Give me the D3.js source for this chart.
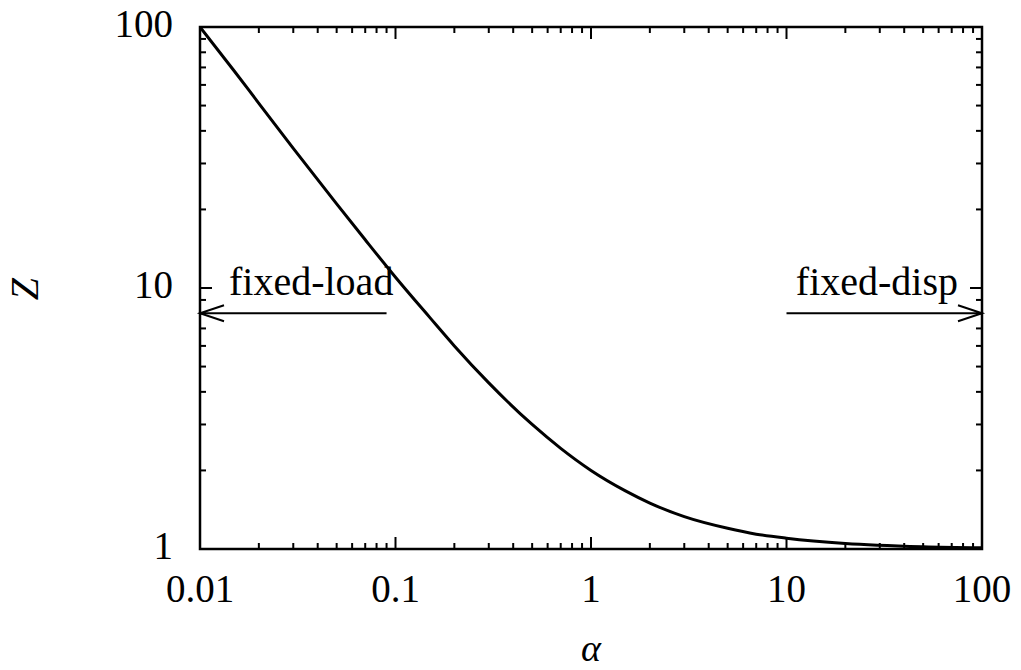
<!DOCTYPE html>
<html>
<head>
<meta charset="utf-8">
<script src="https://cdn.jsdelivr.net/npm/d3@7"></script>
<style>
  body { margin: 0; background: #fff; }
  text { font-family: "Liberation Serif", "Times New Roman", serif; fill: #000; }
</style>
</head>
<body>
<svg id="chart" width="1021" height="670"></svg>
<script>
// values
const alpha = [0.01, 0.015, 0.02, 0.03, 0.05, 0.07, 0.1, 0.15, 0.2, 0.3, 0.5, 0.7, 1, 1.5, 2, 3, 5, 7, 10, 20, 50, 100];
const zVals = [100, 67.7, 51, 34.3, 21, 15.3, 11, 7.7, 6, 4.33, 3, 2.43, 2, 1.67, 1.5, 1.33, 1.2, 1.14, 1.1, 1.05, 1.02, 1.01];
const xTicks = [0.01, 0.1, 1, 10, 100];
const xTickLabels = ["0.01", "0.1", "1", "10", "100"];
const yTicks = [1, 10, 100];
const yTickLabels = ["1", "10", "100"];
const arrowZ = 8;
const loadArrow = [0.09, 0.01];
const dispArrow = [10, 100];
const labelZ = 9.4;

const svg = d3.select("#chart");
const margin = { left: 200, right: 39, top: 27, bottom: 121 };
const W = 1021 - margin.left - margin.right;
const H = 670 - margin.top - margin.bottom;

const x = d3.scaleLog().domain([0.01, 100]).range([0, W]);
const y = d3.scaleLog().domain([1, 100]).range([H, 0]);

const g = svg.append("g").attr("transform", `translate(${margin.left},${margin.top})`);

g.append("clipPath").attr("id", "clip")
  .append("rect").attr("width", W).attr("height", H);

// minor tick values
const minor = (lo, hi) => {
  const out = [];
  for (let d = lo; d < hi; d *= 10)
    for (let k = 2; k <= 9; k++) out.push(d * k);
  return out;
};
const xMinor = minor(0.01, 100);
const yMinor = minor(1, 100);

const tickG = g.append("g").attr("stroke", "#000").attr("stroke-width", 2);
function ticks(vals, len) {
  vals.forEach(v => {
    const px = x(v);
    tickG.append("line").attr("x1", px).attr("x2", px).attr("y1", H).attr("y2", H - len);
    tickG.append("line").attr("x1", px).attr("x2", px).attr("y1", 0).attr("y2", len);
  });
}
function yticks(vals, len) {
  vals.forEach(v => {
    const py = y(v);
    tickG.append("line").attr("x1", 0).attr("x2", len).attr("y1", py).attr("y2", py);
    tickG.append("line").attr("x1", W).attr("x2", W - len).attr("y1", py).attr("y2", py);
  });
}
ticks(xMinor, 6);
ticks(xTicks, 12);
yticks(yMinor, 6);
yticks(yTicks, 12);

// tick labels
g.selectAll(".xl").data(xTicks).enter().append("text")
  .attr("x", d => x(d)).attr("y", H + 53)
  .attr("text-anchor", "middle").style("font-size", "39px")
  .text((d, i) => xTickLabels[i]);

g.selectAll(".yl").data(yTicks).enter().append("text")
  .attr("x", -27).attr("y", d => y(d) + 10)
  .attr("text-anchor", "end").style("font-size", "39px")
  .text((d, i) => yTickLabels[i]);

// curve
const line = d3.line()
  .x((d, i) => x(alpha[i]))
  .y(d => y(d))
  .curve(d3.curveMonotoneX);

g.append("path").datum(zVals)
  .attr("clip-path", "url(#clip)")
  .attr("fill", "none").attr("stroke", "#000").attr("stroke-width", 3)
  .attr("d", line);

// arrows
function arrow(from, to) {
  const x1 = x(from), x2 = x(to), py = y(arrowZ);
  const dir = Math.sign(x2 - x1);
  const a = g.append("g").attr("stroke", "#000").attr("stroke-width", 2).attr("fill", "none");
  a.append("line").attr("x1", x1).attr("x2", x2).attr("y1", py).attr("y2", py);
  a.append("path").attr("d", `M${x2 - dir * 24},${py - 8}L${x2},${py}L${x2 - dir * 24},${py + 8}`);
}
arrow(loadArrow[0], loadArrow[1]);
arrow(dispArrow[0], dispArrow[1]);

g.append("text").attr("x", x(0.01) + 29).attr("y", y(labelZ))
  .style("font-size", "40px").text("fixed-load");
g.append("text").attr("x", x(100) - 24).attr("y", y(labelZ))
  .attr("text-anchor", "end").style("font-size", "40px").text("fixed-disp");

// frame
g.append("rect").attr("width", W).attr("height", H)
  .attr("fill", "none").attr("stroke", "#000").attr("stroke-width", 2.5);

// axis titles
svg.append("text").attr("transform", "translate(38,289) rotate(-90)")
  .attr("text-anchor", "middle").style("font-size", "40px").style("font-style", "italic")
  .text("Z");
svg.append("text").attr("x", 591).attr("y", 661)
  .attr("text-anchor", "middle").style("font-size", "38px").style("font-style", "italic")
  .text("α");
</script>
</body>
</html>
